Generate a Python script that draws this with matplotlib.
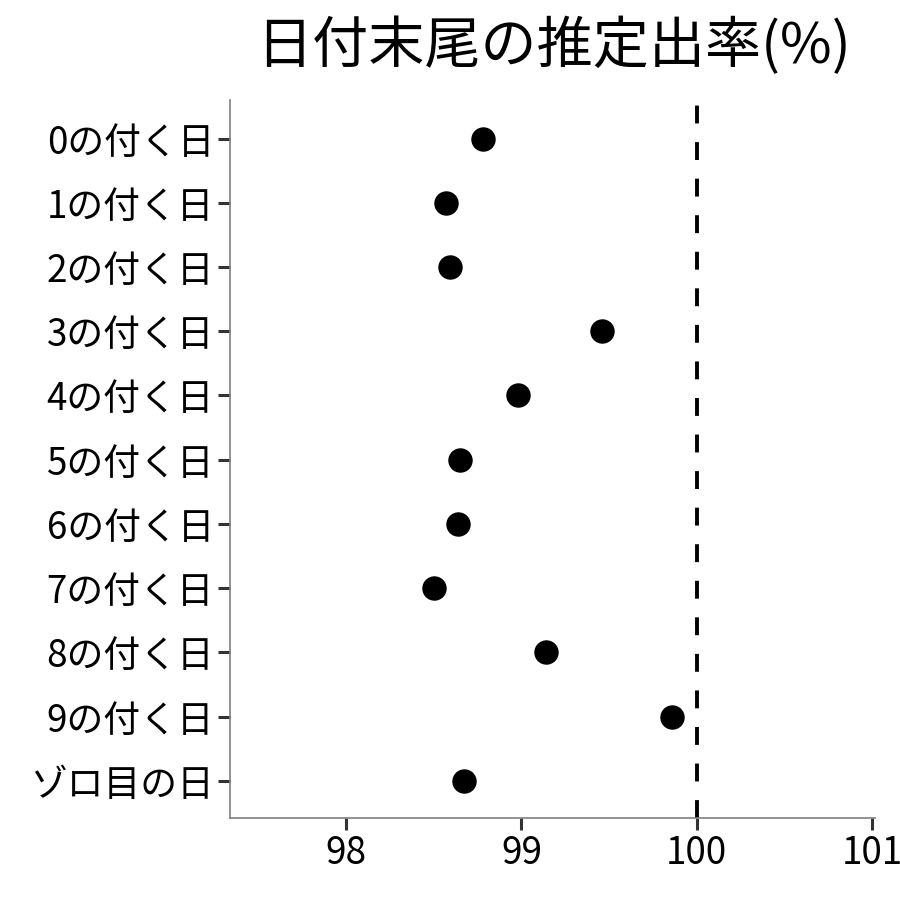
import matplotlib
matplotlib.use('Agg')
import matplotlib.pyplot as plt

plt.rcParams['font.family'] = ['Noto Sans CJK JP', 'DejaVu Sans']

labels = ['0の付く日', '1の付く日', '2の付く日', '3の付く日', '4の付く日',
          '5の付く日', '6の付く日', '7の付く日', '8の付く日', '9の付く日', 'ゾロ目の日']
rates = [98.78, 98.57, 98.59, 99.46, 98.98, 98.65, 98.64, 98.50, 99.14, 99.86, 98.67]
xticks = [98, 99, 100, 101]

fig = plt.figure(figsize=(9, 9), dpi=100)
ax = fig.add_axes([0.2556, 0.0911, 0.7164, 0.7978])

ypos = list(range(len(labels)))
ax.scatter(rates, ypos, s=275, color='black', zorder=3)
ax.axvline(100, color='black', lw=2.8, ls=(0, (4.6, 4.8)), zorder=2)

ax.set_xlim(97.337, 101.017)
ax.set_ylim(len(labels) - 0.42, -0.6)
ax.set_yticks(ypos)
ax.set_yticklabels(labels)
ax.set_xticks(xticks)
ax.set_xticklabels([str(t) for t in xticks])
ax.tick_params(axis='both', labelsize=26.5, length=8.5, width=2.2, color='#333333',
               labelcolor='black', pad=3)

for s in ['top', 'right']:
    ax.spines[s].set_visible(False)
for s in ['left', 'bottom']:
    ax.spines[s].set_color('#808080')
    ax.spines[s].set_linewidth(1.2)

fig.text(0.615, 0.948, '日付末尾の推定出率(%)', fontsize=40.4, ha='center', va='center')

fig.savefig('out.png', dpi=100)
